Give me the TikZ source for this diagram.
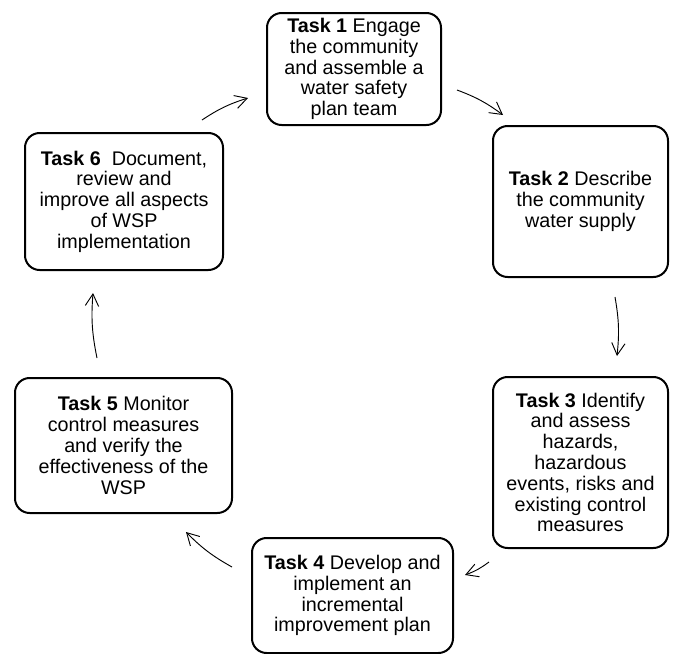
\documentclass[tikz,border=0pt]{standalone}
\usepackage{fontspec}
\setmainfont{Liberation Sans}
\usetikzlibrary{arrows, arrows.meta}

\begin{document}
\begin{tikzpicture}[x=0.75pt,y=0.75pt,
  taskbox/.style={draw=black,line width=1.5pt,rounded corners=11pt,align=center,inner sep=0pt,
    font=\fontsize{14.8pt}{15.6pt}\selectfont},
  cycarrow/.style={-{Straight Barb[length=9pt,width=10pt]},line width=0.7pt}]
\useasboundingbox (0,0) rectangle (676,-654);

%task boxes
\node[taskbox,minimum width=130.5pt,minimum height=84pt] (task1) at (354,-69)
  {\textbf{Task 1} Engage\\the community\\and assemble a\\water safety\\plan team};
\node[taskbox,minimum width=131.25pt,minimum height=113.25pt] (task2) at (580.5,-201.5)
  {\textbf{Task 2} Describe\\the community\\water supply};
\node[taskbox,minimum width=131.25pt,minimum height=128.25pt] (task3) at (580.5,-462.5)
  {\textbf{Task 3} Identify\\and assess\\hazards,\\hazardous\\events, risks and\\existing control\\measures};
\node[taskbox,minimum width=150.75pt,minimum height=86.25pt] (task4) at (352.5,-595.5)
  {\textbf{Task 4} Develop and\\implement an\\incremental\\improvement plan};
\node[taskbox,minimum width=162.75pt,minimum height=101.25pt] (task5) at (123.5,-445.5)
  {\textbf{Task 5} Monitor\\control measures\\and verify the\\effectiveness of the\\WSP};
\node[taskbox,minimum width=148.5pt,minimum height=102.75pt] (task6) at (124,-201.5)
  {\textbf{Task 6}\ \ Document,\\review and\\improve all aspects\\of WSP\\implementation};

%arrow ends
\coordinate (a1s) at (457,-90);  \coordinate (a1e) at (503,-115);
\coordinate (a2s) at (615,-297); \coordinate (a2e) at (617,-356);
\coordinate (a3s) at (489,-562); \coordinate (a3e) at (465,-575);
\coordinate (a4s) at (232,-567); \coordinate (a4e) at (186,-532);
\coordinate (a5s) at (97,-358);  \coordinate (a5e) at (93,-293);
\coordinate (a6s) at (202,-120); \coordinate (a6e) at (248,-98);

%cycle arrows
\draw[cycarrow] (a1s) to[bend left=8] (a1e);
\draw[cycarrow] (a2s) to[bend left=8] (a2e);
\draw[cycarrow] (a3s) to[bend left=8] (a3e);
\draw[cycarrow] (a4s) to[bend left=8] (a4e);
\draw[cycarrow] (a5s) to[bend left=8] (a5e);
\draw[cycarrow] (a6s) to[bend left=8] (a6e);
\end{tikzpicture}
\end{document}
